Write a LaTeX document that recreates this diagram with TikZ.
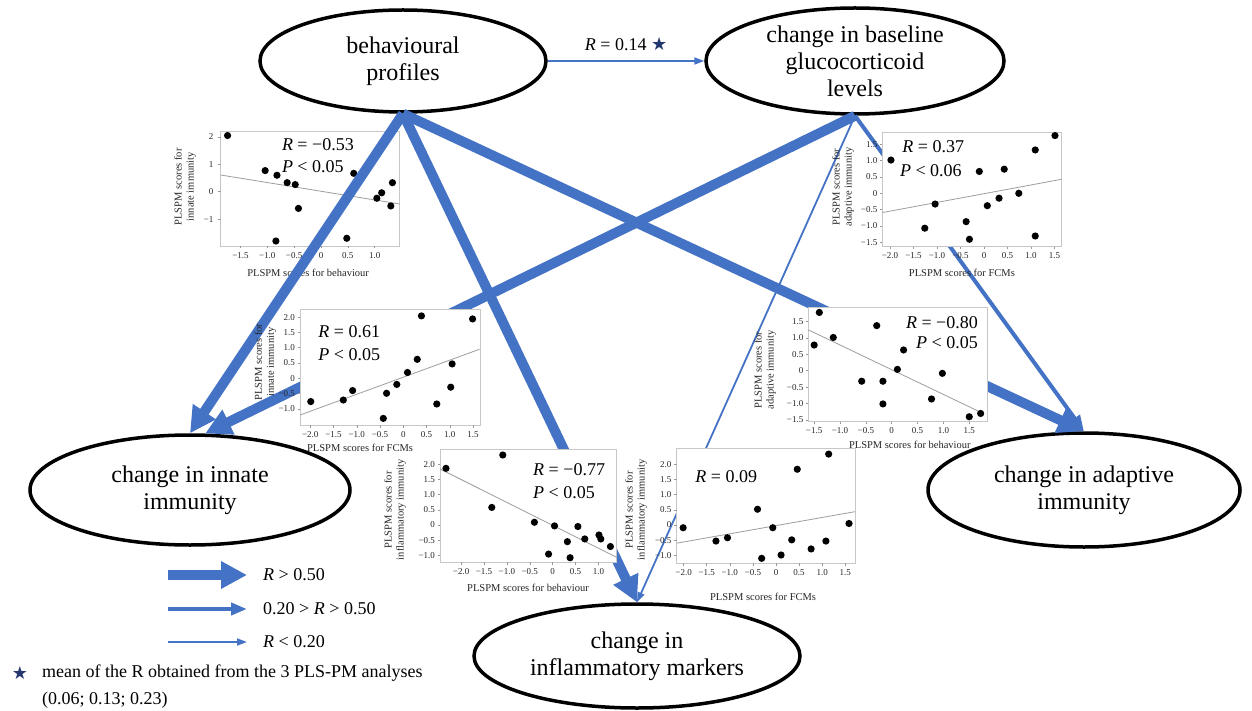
\documentclass[tikz,border=0pt]{standalone}
\usepackage{fontspec}
\setmainfont{Liberation Serif}
\newfontfamily\starfont{DejaVu Sans}
\usepackage{tikz}
\usetikzlibrary{arrows.meta}
\usetikzlibrary{shapes.geometric}
\usetikzlibrary{positioning}
\definecolor{arrowblue}{RGB}{68,114,196}
\definecolor{starnavy}{RGB}{35,55,110}

\begin{document}
\begin{tikzpicture}[
    x=1pt, y=-1pt,
    outcome/.style={ellipse, draw=black, line width=3.5pt, fill=white, align=center, inner sep=0pt, font=\fontsize{24}{27}\selectfont},
    strong/.style={draw=arrowblue, line width=10pt, -{Triangle[length=26pt,width=26pt]}},
    medium/.style={draw=arrowblue, line width=4pt, -{Triangle[length=16pt,width=12pt]}},
    weak/.style={draw=arrowblue, line width=1.8pt, -{Triangle[length=10pt,width=7pt]}},
    frame/.style={draw=black!22, line width=0.9pt, fill=white},
    fitline/.style={draw=black!38, line width=0.8pt},
    tickmark/.style={draw=black!40, line width=0.6pt},
    tick/.style={font=\fontsize{9}{10}\selectfont, inner sep=1pt, text=black!85},
    axlab/.style={font=\fontsize{10.5}{12}\selectfont, align=center, inner sep=0pt, text=black!85},
    stat/.style={font=\fontsize{18}{21}\selectfont, inner sep=0pt, anchor=west},
    legtxt/.style={font=\fontsize{18}{21}\selectfont, inner sep=0pt, anchor=west}
  ]
  \useasboundingbox (0,0) rectangle (1252,711);

  % outcome nodes
  \node[outcome, minimum width=286pt, minimum height=102pt] (beh) at (403,61) {behavioural\\profiles};
  \node[outcome, minimum width=298pt, minimum height=106pt] (gluc) at (855,61) {change in baseline\\glucocorticoid\\levels};
  \node[outcome, minimum width=320pt, minimum height=110pt] (inn) at (190,490) {change in innate\\immunity};
  \node[outcome, minimum width=312pt, minimum height=114pt] (adp) at (1084,490) {change in adaptive\\immunity};
  \node[outcome, minimum width=326pt, minimum height=104pt] (infl) at (637,656) {change in\\inflammatory markers};

  % innate ~ behaviour
  \begin{scope}[shift={(321,191.7)}, x=53.7pt, y=27.4pt]
    \draw[frame] (-1.87,-1.98) rectangle (1.47,2.19);
    \foreach \t/\l [count=\i] in {-1.5/{−1.5},-1/{−1.0},-0.5/{−0.5},0/0,0.5/0.5,1/1.0} {
      \draw[tickmark] (\t,-1.98) -- ++(0,-2.5pt);
      \node[tick, anchor=north] (pax\i) at ([yshift=-5pt]\t,-1.98) {\l};
    }
    \foreach \t/\l [count=\i] in {-1/{−1},0/0,1/1,2/2} {
      \draw[tickmark] (-1.87,\t) -- ++(-2.5pt,0);
      \node[tick, anchor=east] (pay\i) at ([xshift=-6pt]-1.87,\t) {\l};
    }
    \draw[fitline] (-1.87,0.61) -- (1.47,-0.45);
    \foreach \p in {(-1.74,2.05),(-1.04,0.77),(-0.82,0.60),(-0.63,0.33),(-0.48,0.26),(-0.42,-0.61),(-0.84,-1.80),(0.48,-1.70),(0.61,0.67),(1.04,-0.24),(1.13,-0.04),(1.33,0.33),(1.30,-0.52)}
      \fill \p circle (3.6pt);
    \node[axlab] (paxl) at (-0.24,-2.98) {PLSPM scores for behaviour};
    \node[axlab, rotate=90] (payl) at (-2.53,0.18) {PLSPM scores for\\innate immunity};
    \node[stat] (par) at (-0.73,1.70) {\textit{R} = −0.53};
    \node[stat] (pap) at (-0.73,0.90) {\textit{P} < 0.05};
  \end{scope}

  % paths
  \draw[strong] (beh.south) -- (inn.north);
  \draw[strong] (beh.south) -- (infl.north);
  \draw[strong] (beh.south) -- (adp.north);
  \draw[strong] (gluc.south) -- (inn.75);
  \draw[medium] (gluc.south) -- (adp.north);
  \draw[weak] (gluc.south) -- (infl.north);
  \draw[weak] (beh.east) -- node[stat, anchor=south, above=9pt] (r14) {\textit{R} = 0.14 {\starfont\color{starnavy}★}} (gluc.west);

  % adaptive ~ FCMs
  \begin{scope}[shift={(984,193.3)}, x=47pt, y=32.6pt]
    \draw[frame] (-2.16,-1.64) rectangle (1.65,1.86);
    \foreach \t/\l [count=\i] in {-2/{−2.0},-1.5/{−1.5},-1/{−1.0},-0.5/{−0.5},0/0,0.5/0.5,1/1.0,1.5/1.5} {
      \draw[tickmark] (\t,-1.64) -- ++(0,-2.5pt);
      \node[tick, anchor=north] (pbx\i) at ([yshift=-5pt]\t,-1.64) {\l};
    }
    \foreach \t/\l [count=\i] in {-1.5/{−1.5},-1/{−1.0},-0.5/{−0.5},0/0,0.5/0.5,1/1.0,1.5/1.5} {
      \draw[tickmark] (-2.16,\t) -- ++(-2.5pt,0);
      \node[tick, anchor=east] (pby\i) at ([xshift=-4pt]-2.16,\t) {\l};
    }
    \draw[fitline] (-2.16,-0.59) -- (1.65,0.43);
    \foreach \p in {(-1.98,1.02),(-1.26,-1.07),(-1.04,-0.33),(-0.38,-0.87),(-0.31,-1.41),(-0.10,0.67),(0.07,-0.38),(0.32,-0.15),(0.43,0.74),(0.74,0.00),(1.09,1.33),(1.09,-1.31),(1.51,1.77)}
      \fill \p circle (3.6pt);
    \node[axlab] (pbxl) at (-0.47,-2.44) {PLSPM scores for FCMs};
    \node[axlab, rotate=90] (pbyl) at (-3.0,0.19) {PLSPM scores for\\adaptive immunity};
    \node[stat] (pbr) at (-1.74,1.42) {\textit{R} = 0.37};
    \node[stat] (pbp) at (-1.79,0.71) {\textit{P} < 0.06};
  \end{scope}

  % innate ~ FCMs
  \begin{scope}[shift={(403.3,378.3)}, x=46.5pt, y=30.6pt]
    \draw[frame] (-2.22,-1.53) rectangle (1.65,2.25);
    \foreach \t/\l [count=\i] in {-2/{−2.0},-1.5/{−1.5},-1/{−1.0},-0.5/{−0.5},0/0,0.5/0.5,1/1.0,1.5/1.5} {
      \draw[tickmark] (\t,-1.53) -- ++(0,-2.5pt);
      \node[tick, anchor=north] (pcx\i) at ([yshift=-5pt]\t,-1.53) {\l};
    }
    \foreach \t/\l [count=\i] in {-1/{−1.0},-0.5/{−0.5},0/0,0.5/0.5,1/1.0,1.5/1.5,2/2.0} {
      \draw[tickmark] (-2.22,\t) -- ++(-2.5pt,0);
      \node[tick, anchor=east] (pcy\i) at ([xshift=-4pt]-2.22,\t) {\l};
    }
    \draw[fitline] (-2.22,-1.20) -- (1.64,0.95);
    \foreach \p in {(-1.99,-0.76),(-1.29,-0.71),(-1.09,-0.40),(-0.43,-1.31),(-0.36,-0.49),(-0.14,-0.20),(0.09,0.19),(0.30,0.62),(0.39,2.04),(0.72,-0.84),(1.02,-0.29),(1.05,0.47),(1.49,1.94)}
      \fill \p circle (3.6pt);
    \node[axlab] (pcxl) at (-0.93,-2.28) {PLSPM scores for FCMs};
    \node[axlab, rotate=90] (pcyl) at (-2.97,0.53) {PLSPM scores for\\innate immunity};
    \node[stat] (pcr) at (-1.83,1.51) {\textit{R} = 0.61};
    \node[stat] (pcp) at (-1.83,0.76) {\textit{P} < 0.05};
  \end{scope}

  % adaptive ~ behaviour
  \begin{scope}[shift={(891.7,370.7)}, x=51.7pt, y=32.9pt]
    \draw[frame] (-1.61,-1.55) rectangle (1.86,1.93);
    \foreach \t/\l [count=\i] in {-1.5/{−1.5},-1/{−1.0},-0.5/{−0.5},0/0,0.5/0.5,1/1.0,1.5/1.5} {
      \draw[tickmark] (\t,-1.55) -- ++(0,-2.5pt);
      \node[tick, anchor=north] (pdx\i) at ([yshift=-5pt]\t,-1.55) {\l};
    }
    \foreach \t/\l [count=\i] in {-1.5/{−1.5},-1/{−1.0},-0.5/{−0.5},0/0,0.5/0.5,1/1.0,1.5/1.5} {
      \draw[tickmark] (-1.61,\t) -- ++(-2.5pt,0);
      \node[tick, anchor=east] (pdy\i) at ([xshift=-4pt]-1.61,\t) {\l};
    }
    \draw[fitline] (-1.61,1.24) -- (1.77,-1.30);
    \foreach \p in {(-1.40,1.77),(-1.50,0.78),(-1.13,1.01),(-0.58,-0.32),(-0.29,1.37),(-0.17,-0.32),(-0.17,-1.01),(0.11,0.04),(0.23,0.63),(0.77,-0.86),(0.98,-0.08),(1.50,-1.40),(1.72,-1.30)}
      \fill \p circle (3.6pt);
    \node[axlab] (pdxl) at (0.35,-2.26) {PLSPM scores for behaviour};
    \node[axlab, rotate=90] (pdyl) at (-2.45,0.02) {PLSPM scores for\\adaptive immunity};
    \node[stat, anchor=east] (pdr) at (1.67,1.45) {\textit{R} = −0.80};
    \node[stat, anchor=east] (pdp) at (1.67,0.84) {\textit{P} < 0.05};
  \end{scope}

  % inflammatory ~ behaviour
  \begin{scope}[shift={(552.7,525)}, x=45.8pt, y=30.3pt]
    \draw[frame] (-2.46,-1.23) rectangle (1.40,2.48);
    \foreach \t/\l [count=\i] in {-2/{−2.0},-1.5/{−1.5},-1/{−1.0},-0.5/{−0.5},0/0,0.5/0.5,1/1.0} {
      \draw[tickmark] (\t,-1.23) -- ++(0,-2.5pt);
      \node[tick, anchor=north] (pex\i) at ([yshift=-5pt]\t,-1.23) {\l};
    }
    \foreach \t/\l [count=\i] in {-1/{−1.0},-0.5/{−0.5},0/0,0.5/0.5,1/1.0,1.5/1.5,2/2.0} {
      \draw[tickmark] (-2.46,\t) -- ++(-2.5pt,0);
      \node[tick, anchor=east] (pey\i) at ([xshift=-4pt]-2.46,\t) {\l};
    }
    \draw[fitline] (-2.46,1.85) -- (1.40,-1.07);
    \foreach \p in {(-2.33,1.87),(-1.09,2.31),(-1.33,0.58),(-0.40,0.09),(-0.09,-0.96),(0.04,-0.03),(0.32,-0.55),(0.38,-1.08),(0.55,-0.05),(0.70,-0.46),(1.01,-0.33),(1.05,-0.46),(1.26,-0.71)}
      \fill \p circle (3.6pt);
    \node[axlab] (pexl) at (-0.54,-2.08) {PLSPM scores for behaviour};
    \node[axlab, rotate=90] (peyl) at (-3.44,0.50) {PLSPM scores for\\inflammatory immunity};
    \node[stat] (per) at (-0.43,1.82) {\textit{R} = −0.77};
    \node[stat] (pep) at (-0.43,1.06) {\textit{P} < 0.05};
  \end{scope}

  % inflammatory ~ FCMs
  \begin{scope}[shift={(776,525)}, x=46.2pt, y=30.3pt]
    \draw[frame] (-2.15,-1.27) rectangle (1.71,2.51);
    \foreach \t/\l [count=\i] in {-2/{−2.0},-1.5/{−1.5},-1/{−1.0},-0.5/{−0.5},0/0,0.5/0.5,1/1.0,1.5/1.5} {
      \draw[tickmark] (\t,-1.27) -- ++(0,-2.5pt);
      \node[tick, anchor=north] (pfx\i) at ([yshift=-5pt]\t,-1.27) {\l};
    }
    \foreach \t/\l [count=\i] in {-1/{−1.0},-0.5/{−0.5},0/0,0.5/0.5,1/1.0,1.5/1.5,2/2.0} {
      \draw[tickmark] (-2.15,\t) -- ++(-2.5pt,0);
      \node[tick, anchor=east] (pfy\i) at ([xshift=-4pt]-2.15,\t) {\l};
    }
    \draw[fitline] (-2.15,-0.60) -- (1.71,0.44);
    \foreach \p in {(-2.01,-0.09),(-1.30,-0.53),(-1.05,-0.42),(-0.40,0.52),(-0.31,-1.10),(-0.07,-0.09),(0.11,-0.99),(0.34,-0.49),(0.46,1.84),(0.76,-0.79),(1.08,-0.53),(1.14,2.34),(1.58,0.05)}
      \fill \p circle (3.6pt);
    \node[axlab] (pfxl) at (-0.28,-2.38) {PLSPM scores for FCMs};
    \node[axlab, rotate=90] (pfyl) at (-3.03,0.50) {PLSPM scores for\\inflammatory immunity};
    \node[stat] (pfr) at (-1.75,1.58) {\textit{R} = 0.09};
  \end{scope}

  % legend
  \coordinate (lsa) at (168,575); \coordinate (lsb) at (247,575);
  \coordinate (lma) at (168,609); \coordinate (lmb) at (247,609);
  \coordinate (lwa) at (168,642); \coordinate (lwb) at (247,642);
  \draw[strong] (lsa) -- (lsb);
  \draw[medium] (lma) -- (lmb);
  \draw[weak] (lwa) -- (lwb);
  \node[legtxt] (ls) at (263,575) {\textit{R} > 0.50};
  \node[legtxt] (lm) at (263,609) {0.20 > \textit{R} > 0.50};
  \node[legtxt] (lw) at (263,642) {\textit{R} < 0.20};
  \node[legtxt, anchor=center] (star) at (20,673) {\starfont\color{starnavy}★};
  \node[legtxt] (mean) at (42,673) {mean of the R obtained from the 3 PLS-PM analyses};
  \node[legtxt] (vals) at (42,700) {(0.06; 0.13; 0.23)};
\end{tikzpicture}
\end{document}
